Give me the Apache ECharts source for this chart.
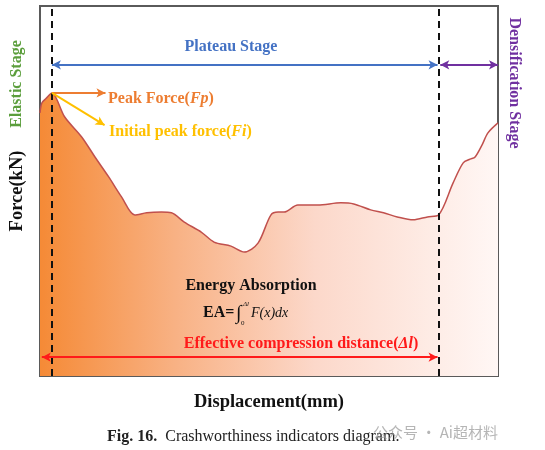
<!DOCTYPE html>
<html>
<head>
<meta charset="utf-8">
<script src="https://cdn.jsdelivr.net/npm/echarts@6/dist/echarts.min.js"></script>
<style>html,body{margin:0;padding:0;background:#fff}#c{width:545px;height:450px}</style>
</head>
<body>
<div id="c"></div>
<script>
// Displacement (relative units, 0..100) and Force (relative units, 0..100)
var displacement = [0, 0.4, 1.3, 2.6, 5.4, 9.1, 12.0, 15.0, 17.8, 20.7, 23.3, 26.5, 28.7, 31.5, 35.2, 38.0, 41.7, 44.6, 47.6, 50.4, 52.0, 53.3, 56.3, 60.7, 65.7, 68.5, 72.2, 75.0, 78.0, 81.5, 84.6, 87.0, 90.2, 92.4, 93.9, 95.0, 96.5, 97.8, 100];
var force = [71.1, 73.8, 75.0, 76.5, 70.0, 64.6, 59.2, 53.8, 48.4, 43.5, 44.1, 44.3, 44.1, 41.6, 38.9, 36.2, 35.1, 33.5, 35.9, 43.5, 44.3, 44.3, 46.2, 46.2, 46.8, 46.5, 44.9, 44.1, 43.0, 42.2, 43.0, 43.5, 52.2, 57.6, 58.6, 59.2, 62.4, 65.7, 68.4];
var elasticEnd = 2.6;     // end of elastic stage
var plateauEnd = 87.0;    // end of plateau stage / effective compression distance
var xMax = 100;
var stageArrowY = 84.1;
var peakX = 2.6, peakY = 76.5;

var chart = echarts.init(document.getElementById('c'), null, {renderer: 'canvas'});
var serif = '"Liberation Serif", "DejaVu Serif", serif';

var seriesData = displacement.map(function (x, i) { return [x, force[i]]; });

function arrow(p1, p2, color, sym) {
  return [
    {coord: p1, symbol: sym[0], lineStyle: {color: color, width: 2, type: 'solid'}},
    {coord: p2, symbol: sym[1]}
  ];
}

function txt(cfg) { cfg.type = 'text'; cfg.z = 100; return cfg; }

var option = {
  animation: false,
  grid: {left: 38, right: 47, top: 6, bottom: 74, show: true, borderColor: '#5a5a5a', borderWidth: 2, backgroundColor: 'transparent'},
  xAxis: {
    type: 'value', min: 0, max: xMax,
    axisLine: {show: false}, axisTick: {show: false}, axisLabel: {show: false}, splitLine: {show: false},
    name: 'Displacement(mm)', nameLocation: 'middle', nameGap: 17,
    nameTextStyle: {fontFamily: serif, fontWeight: 'bold', fontSize: 18.5, color: '#111'}
  },
  yAxis: {
    type: 'value', min: 0, max: 100,
    axisLine: {show: false}, axisTick: {show: false}, axisLabel: {show: false}, splitLine: {show: false},
    name: 'Force(kN)', nameLocation: 'middle', nameGap: 13,
    nameTextStyle: {fontFamily: serif, fontWeight: 'bold', fontSize: 18.5, color: '#111'}
  },
  series: [{
    type: 'line',
    data: seriesData,
    smooth: 0.3,
    symbol: 'none',
    clip: false,
    lineStyle: {color: '#c0504d', width: 1.5},
    areaStyle: {
      color: new echarts.graphic.LinearGradient(0, 0, 1, 0, [
        {offset: 0, color: '#f58a36'},
        {offset: 0.3, color: '#f8b285'},
        {offset: 0.6, color: '#fcd8ca'},
        {offset: 1, color: '#fff7f5'}
      ]),
      opacity: 1
    },
    markLine: {
      silent: true,
      symbolSize: [7, 9],
      label: {show: false},
      data: [
        [{coord: [elasticEnd, 0], symbol: 'none', lineStyle: {color: '#111', width: 2, type: [7, 5]}}, {coord: [elasticEnd, 100], symbol: 'none'}],
        [{coord: [plateauEnd, 0], symbol: 'none', lineStyle: {color: '#111', width: 2, type: [7, 5]}}, {coord: [plateauEnd, 100], symbol: 'none'}],
        arrow([elasticEnd, stageArrowY], [plateauEnd - 0.2, stageArrowY], '#4472c4', ['arrow', 'arrow']),
        arrow([plateauEnd + 0.4, stageArrowY], [xMax, stageArrowY], '#7030a0', ['arrow', 'arrow']),
        arrow([-2.2, 79.7], [2.2, 79.7], '#5b9e3c', ['none', 'arrow']),
        arrow([0.4, 5.1], [plateauEnd - 0.2, 5.1], '#ff1a1a', ['arrow', 'arrow']),
        arrow([peakX, peakY], [14.3, peakY], '#ed7d31', ['none', 'arrow']),
        arrow([peakX, peakY], [14.1, 67.8], '#ffc000', ['none', 'arrow'])
      ]
    }
  }],
  graphic: [
    txt({x: 231, y: 47, style: {text: 'Plateau Stage', fill: '#4472c4', font: 'bold 16px ' + serif, textAlign: 'center', textVerticalAlign: 'middle'}}),
    txt({x: 17, y: 84, rotation: Math.PI / 2, style: {text: 'Elastic Stage', fill: '#5b9e3c', font: 'bold 16px ' + serif, textAlign: 'center', textVerticalAlign: 'middle'}}),
    txt({x: 514, y: 83, rotation: -Math.PI / 2, style: {text: 'Densification Stage', fill: '#7030a0', font: 'bold 16px ' + serif, textAlign: 'center', textVerticalAlign: 'middle'}}),
    txt({x: 108, y: 99, style: {
      text: '{a|Peak Force(}{b|Fp}{a|)}', textVerticalAlign: 'middle',
      rich: {a: {fill: '#ed7d31', font: 'bold 16px ' + serif}, b: {fill: '#ed7d31', font: 'italic bold 16px ' + serif}}
    }}),
    txt({x: 109, y: 132, style: {
      text: '{a|Initial peak force(}{b|Fi}{a|)}', textVerticalAlign: 'middle',
      rich: {a: {fill: '#ffc000', font: 'bold 16px ' + serif}, b: {fill: '#ffc000', font: 'italic bold 16px ' + serif}}
    }}),
    txt({x: 251, y: 286, style: {text: 'Energy Absorption', fill: '#111', font: 'bold 16px ' + serif, textAlign: 'center', textVerticalAlign: 'middle'}}),
    txt({x: 203, y: 313, style: {text: 'EA=', fill: '#111', font: 'bold 16px ' + serif, textVerticalAlign: 'middle'}}),
    txt({x: 236, y: 314, style: {text: '\u222B', fill: '#111', font: '20px ' + serif, textVerticalAlign: 'middle'}}),
    txt({x: 243, y: 304, style: {text: '\u0394l', fill: '#111', font: 'italic 7px ' + serif, textVerticalAlign: 'middle'}}),
    txt({x: 241, y: 323, style: {text: '0', fill: '#111', font: '7px ' + serif, textVerticalAlign: 'middle'}}),
    txt({x: 251, y: 313, style: {text: 'F(x)dx', fill: '#111', font: 'italic 14px ' + serif, textVerticalAlign: 'middle'}}),
    txt({x: 301, y: 344, style: {
      text: '{a|Effective compression distance(}{b|\u0394l}{a|)}', textAlign: 'center', textVerticalAlign: 'middle',
      rich: {a: {fill: '#ff1a1a', font: 'bold 16px ' + serif}, b: {fill: '#ff1a1a', font: 'italic bold 16px ' + serif}}
    }}),
    txt({x: 107, y: 437, style: {
      text: '{a|Fig. 16.}{b|  Crashworthiness indicators diagram.}', textVerticalAlign: 'middle',
      rich: {a: {fill: '#222', font: 'bold 16px ' + serif}, b: {fill: '#222', font: '16px ' + serif}}
    }}),
    txt({x: 373, y: 432, style: {text: '\u516C\u4F17\u53F7 \u00B7 Ai\u8D85\u6750\u6599', fill: 'rgba(150,150,150,0.7)', font: '15px "Noto Sans CJK SC", sans-serif', textVerticalAlign: 'middle'}})
  ]
};
chart.setOption(option);
</script>
</body>
</html>
